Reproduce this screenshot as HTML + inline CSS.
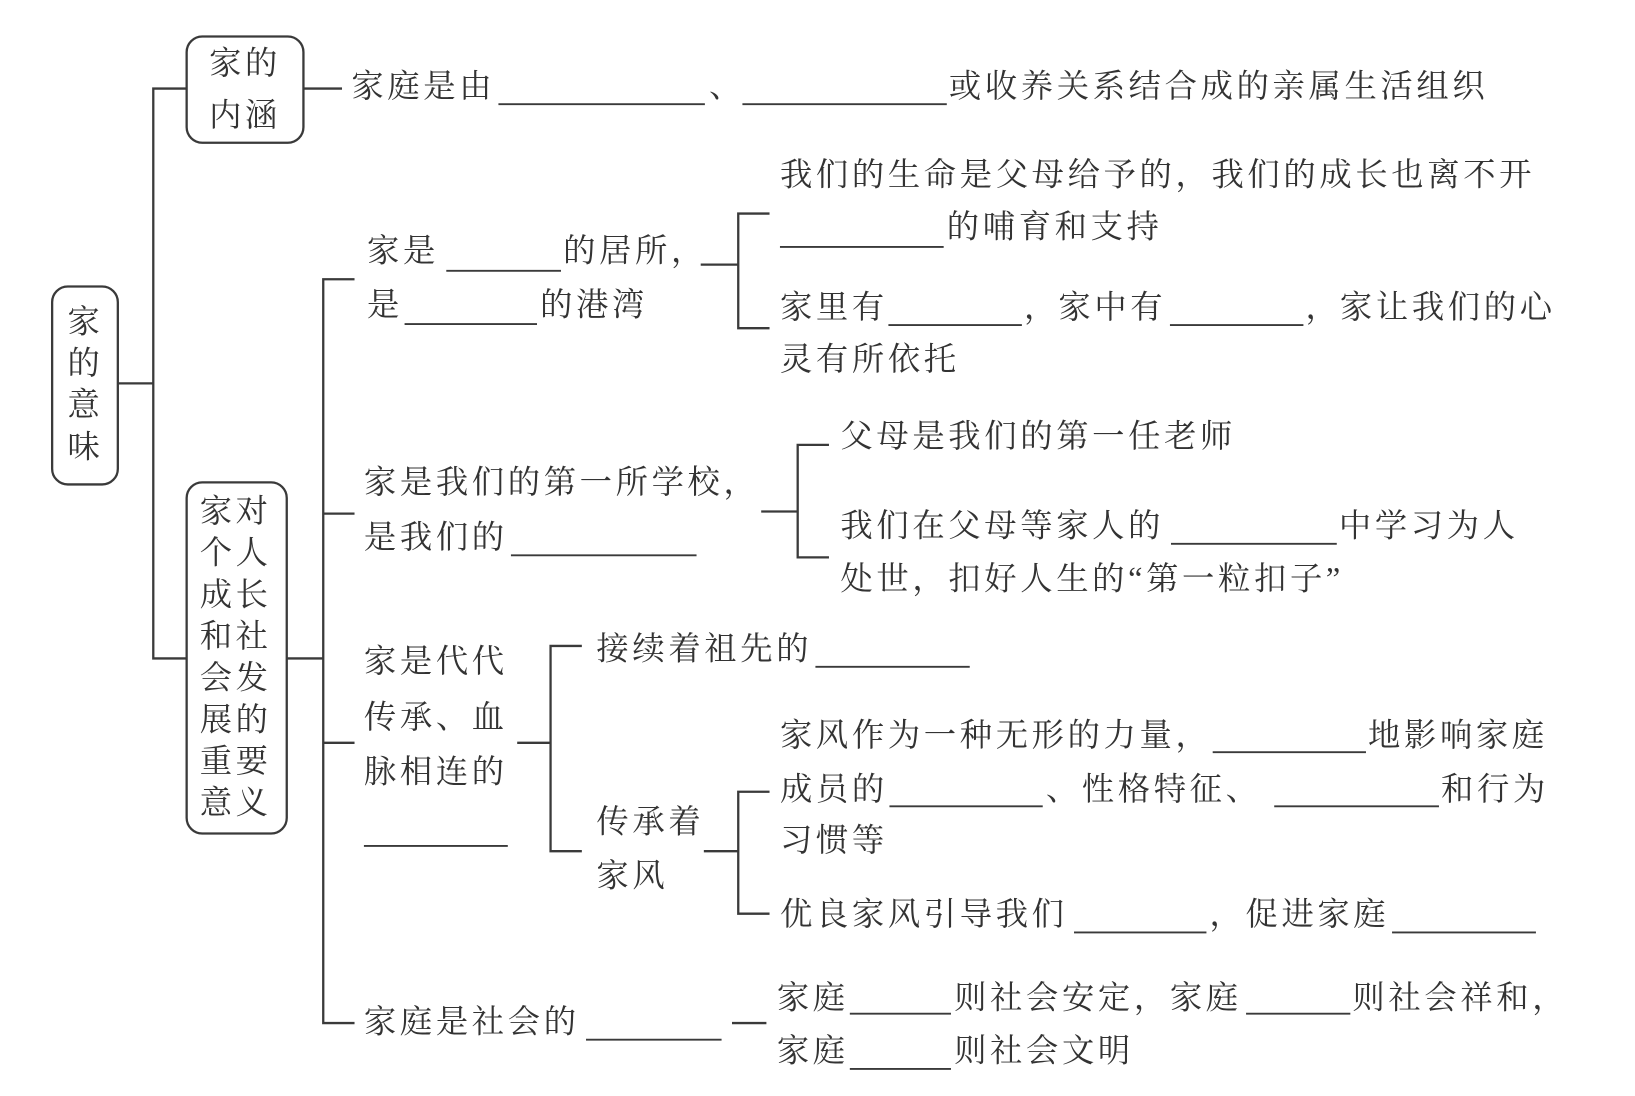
<!DOCTYPE html>
<html><head><meta charset="utf-8"><style>
html,body{margin:0;padding:0;background:#fff;}
svg{display:block}
text{font-family:"Liberation Serif","Noto Serif CJK SC",serif;font-size:31px;fill:#333;letter-spacing:3.5px}
</style></head><body>
<svg width="1635" height="1096" viewBox="0 0 1568 1052" preserveAspectRatio="none" xmlns="http://www.w3.org/2000/svg">
<rect width="1568" height="1052" fill="#fff"/>
<g stroke="#3a3a3a" stroke-width="2.2" fill="none">
<rect x="50" y="275" width="63" height="190" rx="15"/>
<rect x="179" y="35" width="112" height="102" rx="15"/>
<rect x="179" y="463" width="96" height="337" rx="15"/>
<path d="M113 368H147M179 85H147V632H179"/>
<path d="M291 85H328"/>
<path d="M275 632H310M340 268H310V982H340M310 493H340M310 713H340"/>
<path d="M672 254H708M738 205H708V315H738"/>
<path d="M730 491H765M795 427H765V535H795"/>
<path d="M496 713H528M558 620H528V817H558"/>
<path d="M675 817H708M738 760H708V877H738"/>
<path d="M702 982H735"/>
<!-- blanks -->
<path stroke-width="1.8" d="M478 100H676M712 100H908M428 260H538M388 311H515M748 237H905M852 312H980M1122 312H1250M490 533H668M1123 522H1282M349 812H487M782 640H930M1163 722H1310M853 774H1000M1222 774H1380M1030 895H1157M1335 895H1473M562 998H692M815 973H912M1195 973H1295M815 1026H912"/>
</g>
<g text-anchor="middle" style="letter-spacing:0">
<text x="82" y="319">家</text><text x="82" y="359">的</text><text x="82" y="399">意</text><text x="82" y="439">味</text>
<text x="235" y="71">家的</text><text x="235" y="121">内涵</text>
</g>
<g text-anchor="middle" style="letter-spacing:0">
<text x="226" y="501">家对</text><text x="226" y="541">个人</text><text x="226" y="581">成长</text><text x="226" y="621">和社</text><text x="226" y="661">会发</text><text x="226" y="701">展的</text><text x="226" y="741">重要</text><text x="226" y="781">意义</text>
</g>
<text x="337" y="93">家庭是由</text><text x="680" y="93">、</text><text x="910" y="93">或收养关系结合成的亲属生活组织</text>
<text x="352" y="251">家是</text><text x="540" y="251">的居所，</text>
<text x="352" y="303">是</text><text x="518" y="303">的港湾</text>
<text x="748" y="178">我们的生命是父母给予的，我们的成长也离不开</text>
<text x="908" y="228">的哺育和支持</text>
<text x="748" y="305">家里有</text><text x="982" y="305">，</text><text x="1015" y="305">家中有</text><text x="1252" y="305">，</text><text x="1285" y="305">家让我们的心</text>
<text x="748" y="355">灵有所依托</text>
<text x="349" y="473">家是我们的第一所学校，</text>
<text x="349" y="526">是我们的</text>
<text x="806" y="429">父母是我们的第一任老师</text>
<text x="806" y="515">我们在父母等家人的</text><text x="1284" y="515">中学习为人</text>
<text x="806" y="566">处世，扣好人生的“第一粒扣子”</text>
<text x="349" y="645">家是代代</text><text x="349" y="699">传承、血</text><text x="349" y="751">脉相连的</text>
<text x="572" y="633">接续着祖先的</text>
<text x="572" y="799">传承着</text><text x="572" y="851">家风</text>
<text x="748" y="716">家风作为一种无形的力量，</text><text x="1312" y="716">地影响家庭</text>
<text x="748" y="768">成员的</text><text x="1003" y="768">、性格特征、</text><text x="1382" y="768">和行为</text>
<text x="748" y="817">习惯等</text>
<text x="748" y="888">优良家风引导我们</text><text x="1160" y="888">，促进家庭</text>
<text x="349" y="991">家庭是社会的</text>
<text x="745" y="968">家庭</text><text x="915" y="968">则社会安定，家庭</text><text x="1297" y="968">则社会祥和，</text>
<text x="745" y="1019">家庭</text><text x="915" y="1019">则社会文明</text>
</svg>
</body></html>
